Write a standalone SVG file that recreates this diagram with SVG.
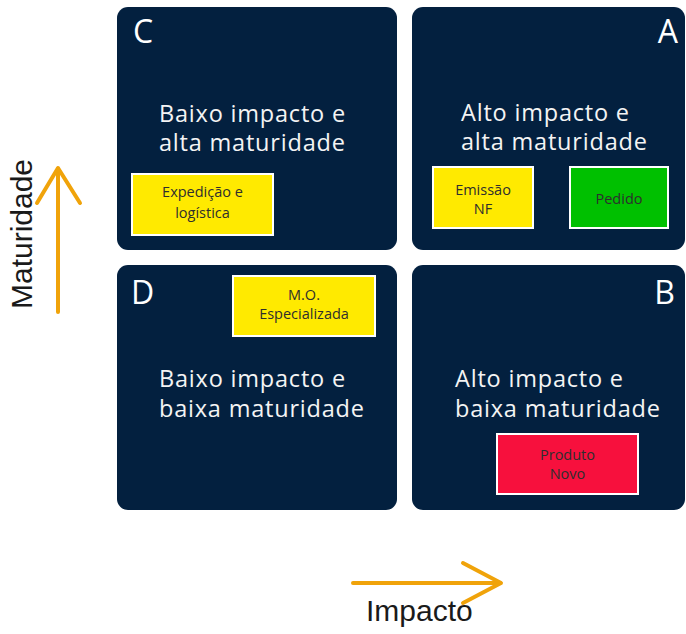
<svg xmlns="http://www.w3.org/2000/svg" width="686" height="634" viewBox="0 0 686 634">
  <style>
    .quad { fill: #03203f; }
    .letter { font-family: "Open Sans", "Liberation Sans", sans-serif; font-size: 32px; fill: #ffffff; }
    .title { font-family: "Open Sans", "Liberation Sans", sans-serif; font-size: 23.5px; font-weight: 500; fill: #f4f4f4; letter-spacing: 0.8px; }
    .tag { stroke: #ffffff; stroke-width: 2; }
    .tagtext { font-family: "Open Sans", "Liberation Sans", sans-serif; font-size: 14.5px; font-weight: 500; fill: #2e2e2e; text-anchor: middle; }
    .axis { stroke: #f0a30a; stroke-width: 4; stroke-linecap: round; stroke-linejoin: round; fill: none; }
    .axistext { font-family: "Liberation Sans", Arial, sans-serif; font-size: 30px; fill: #1a1a1a; }
  </style>
  <rect width="686" height="634" fill="#ffffff"/>

  <g id="quadrant-C">
    <rect class="quad" x="117" y="7" width="280" height="243" rx="11"/>
    <text class="letter" x="133" y="43">C</text>
    <text class="title" x="159" y="122">Baixo impacto e</text>
    <text class="title" x="159" y="151">alta maturidade</text>
  </g>

  <g id="quadrant-A">
    <rect class="quad" x="412" y="7" width="273" height="243" rx="11"/>
    <text class="letter" x="678" y="43" text-anchor="end">A</text>
    <text class="title" x="461" y="121">Alto impacto e</text>
    <text class="title" x="461" y="150">alta maturidade</text>
  </g>

  <g id="quadrant-D">
    <rect class="quad" x="117" y="265" width="280" height="245" rx="11"/>
    <text class="letter" x="131" y="304">D</text>
    <text class="title" x="159" y="387">Baixo impacto e</text>
    <text class="title" x="159" y="417">baixa maturidade</text>
  </g>

  <g id="quadrant-B">
    <rect class="quad" x="412" y="265" width="273" height="245" rx="11"/>
    <text class="letter" x="675" y="304" text-anchor="end">B</text>
    <text class="title" x="455" y="387">Alto impacto e</text>
    <text class="title" x="455" y="417">baixa maturidade</text>
  </g>

  <g id="tag-expedicao">
    <rect class="tag" x="132" y="174" width="141" height="61" fill="#ffea00"/>
    <text class="tagtext" x="202.5" y="197">Expedição e</text>
    <text class="tagtext" x="202.5" y="218">logística</text>
  </g>

  <g id="tag-emissao">
    <rect class="tag" x="433" y="167" width="100" height="61" fill="#ffea00"/>
    <text class="tagtext" x="483" y="195">Emissão</text>
    <text class="tagtext" x="483" y="214">NF</text>
  </g>

  <g id="tag-pedido">
    <rect class="tag" x="570" y="167" width="98" height="61" fill="#00c000"/>
    <text class="tagtext" x="619" y="204">Pedido</text>
  </g>

  <g id="tag-mo">
    <rect class="tag" x="233" y="276" width="142" height="60" fill="#ffea00"/>
    <text class="tagtext" x="304" y="300">M.O.</text>
    <text class="tagtext" x="304" y="319">Especializada</text>
  </g>

  <g id="tag-produto">
    <rect class="tag" x="497" y="434" width="141" height="60" fill="#f7103d"/>
    <text class="tagtext" x="567.5" y="460">Produto</text>
    <text class="tagtext" x="567.5" y="479">Novo</text>
  </g>

  <g id="connectors">
    <g id="axis-maturidade">
      <line class="axis" x1="58" y1="312" x2="58" y2="169"/>
      <polyline class="axis" points="37,203 58,168 80,203"/>
    </g>
    <g id="axis-impacto">
      <line class="axis" x1="353" y1="583" x2="500" y2="583"/>
      <polyline class="axis" points="463,563 501,583 463,603"/>
    </g>
  </g>

  <g id="label-maturidade">
    <text class="axistext" transform="translate(32,234) rotate(-90)" text-anchor="middle">Maturidade</text>
  </g>
  <g id="label-impacto">
    <text class="axistext" x="366" y="621">Impacto</text>
  </g>
</svg>
